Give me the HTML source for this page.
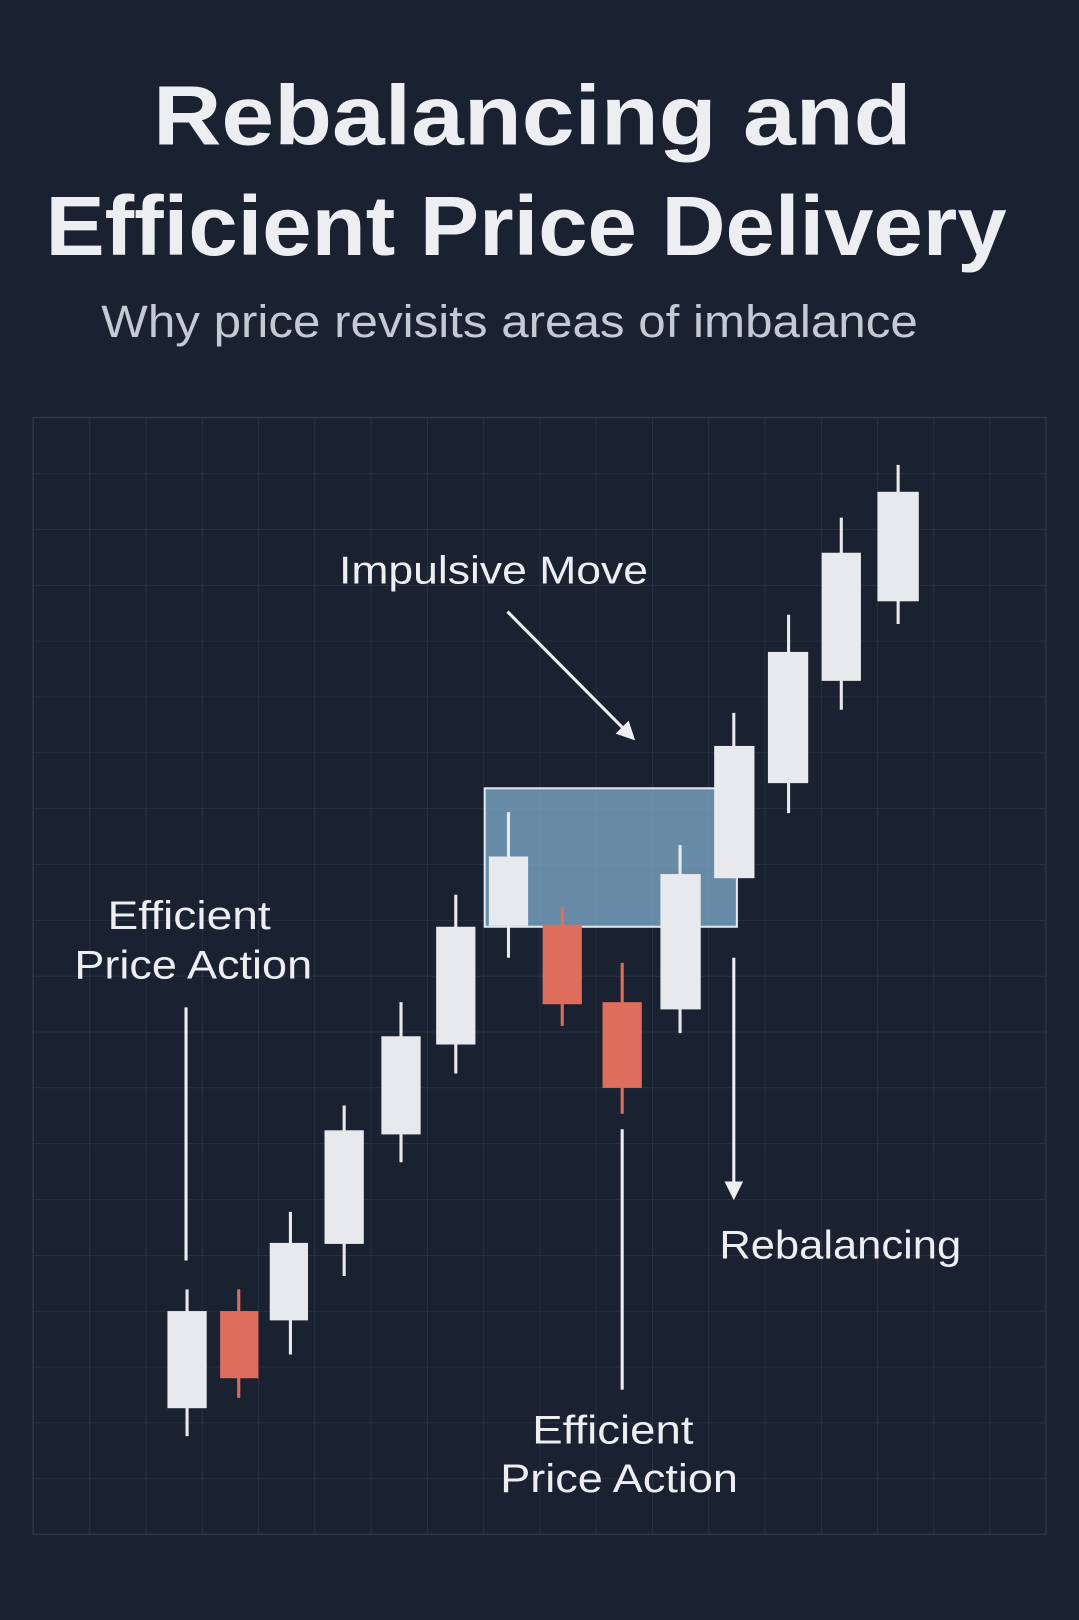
<!DOCTYPE html>
<html><head><meta charset="utf-8"><style>
html,body{margin:0;padding:0;background:#1a2130;}
svg{display:block}
text{font-family:"Liberation Sans",sans-serif;fill:#eceef1}
</style></head><body>
<svg width="1079" height="1620" viewBox="0 0 1044 1568" preserveAspectRatio="none" xmlns="http://www.w3.org/2000/svg">
<defs>
<pattern id="g" x="32" y="404" width="54.45" height="54.05" patternUnits="userSpaceOnUse">
<path d="M0 0H54.45M0 0V54.05" stroke="#2d3848" stroke-width="1.3" fill="none"/>
</pattern>
<marker id="ah" viewBox="0 0 10 10" refX="8" refY="5" markerWidth="6" markerHeight="6" orient="auto"><path d="M0 0L10 5L0 10z" fill="#eceef1"/></marker>
</defs>
<rect width="1044" height="1568" fill="#1a2130"/>
<rect x="32" y="404" width="980" height="1081" fill="url(#g)"/>
<rect x="32" y="404" width="980" height="1081" fill="none" stroke="#2d3848" stroke-width="1.3"/>

<text x="148" y="140" font-size="82" font-weight="bold" textLength="734" lengthAdjust="spacingAndGlyphs">Rebalancing and</text>
<text x="44" y="247" font-size="82" font-weight="bold" textLength="930" lengthAdjust="spacingAndGlyphs">Efficient Price Delivery</text>
<text x="98" y="326" font-size="44" style="fill:#c4c9d3" textLength="790" lengthAdjust="spacingAndGlyphs">Why price revisits areas of imbalance</text>

<rect x="469" y="763" width="244" height="134" fill="#7aa6c4" fill-opacity="0.8" stroke="#dfe6ee" stroke-width="2"/>

<g stroke="#e8e9ec" stroke-width="3">
<line x1="181" y1="1248" x2="181" y2="1390"/>
<line x1="281" y1="1173" x2="281" y2="1311"/>
<line x1="333" y1="1070" x2="333" y2="1235"/>
<line x1="388" y1="970" x2="388" y2="1125"/>
<line x1="441" y1="866" x2="441" y2="1039"/>
<line x1="492" y1="786" x2="492" y2="927"/>
<line x1="658" y1="818" x2="658" y2="1000"/>
<line x1="710" y1="690" x2="710" y2="850"/>
<line x1="763" y1="595" x2="763" y2="787"/>
<line x1="814" y1="501" x2="814" y2="687"/>
<line x1="869" y1="450" x2="869" y2="604"/>
</g>
<g stroke="#df6d5c" stroke-width="3">
<line x1="231" y1="1248" x2="231" y2="1353"/>
<line x1="544" y1="878" x2="544" y2="993"/>
<line x1="602" y1="932" x2="602" y2="1078"/>
</g>
<g fill="#e8e9ec">
<rect x="162" y="1269" width="38" height="94"/>
<rect x="261" y="1203" width="37" height="75"/>
<rect x="314" y="1094" width="38" height="110"/>
<rect x="369" y="1003" width="38" height="95"/>
<rect x="422" y="897" width="38" height="114"/>
<rect x="473" y="829" width="38" height="67"/>
<rect x="639" y="846" width="39" height="131"/>
<rect x="691" y="722" width="39" height="128"/>
<rect x="743" y="631" width="39" height="127"/>
<rect x="795" y="535" width="38" height="124"/>
<rect x="849" y="476" width="40" height="106"/>
</g>
<g fill="#df6d5c">
<rect x="213" y="1269" width="37" height="65"/>
<rect x="525" y="895" width="38" height="77"/>
<rect x="583" y="970" width="38" height="83"/>
</g>

<g stroke="#eceef1" stroke-width="3">
<line x1="491" y1="592" x2="612" y2="714" marker-end="url(#ah)"/>
<line x1="710" y1="927" x2="710" y2="1158" marker-end="url(#ah)"/>
<line x1="180" y1="975" x2="180" y2="1220"/>
<line x1="602" y1="1093" x2="602" y2="1345"/>
</g>

<text x="328" y="565" font-size="38" textLength="299" lengthAdjust="spacingAndGlyphs">Impulsive Move</text>
<text x="696" y="1218" font-size="39" textLength="234" lengthAdjust="spacingAndGlyphs">Rebalancing</text>
<text x="104" y="899" font-size="39" textLength="158" lengthAdjust="spacingAndGlyphs">Efficient</text>
<text x="72" y="947" font-size="39" textLength="230" lengthAdjust="spacingAndGlyphs">Price Action</text>
<text x="515" y="1397" font-size="39" textLength="156" lengthAdjust="spacingAndGlyphs">Efficient</text>
<text x="484" y="1444" font-size="39" textLength="230" lengthAdjust="spacingAndGlyphs">Price Action</text>
</svg>
</body></html>
